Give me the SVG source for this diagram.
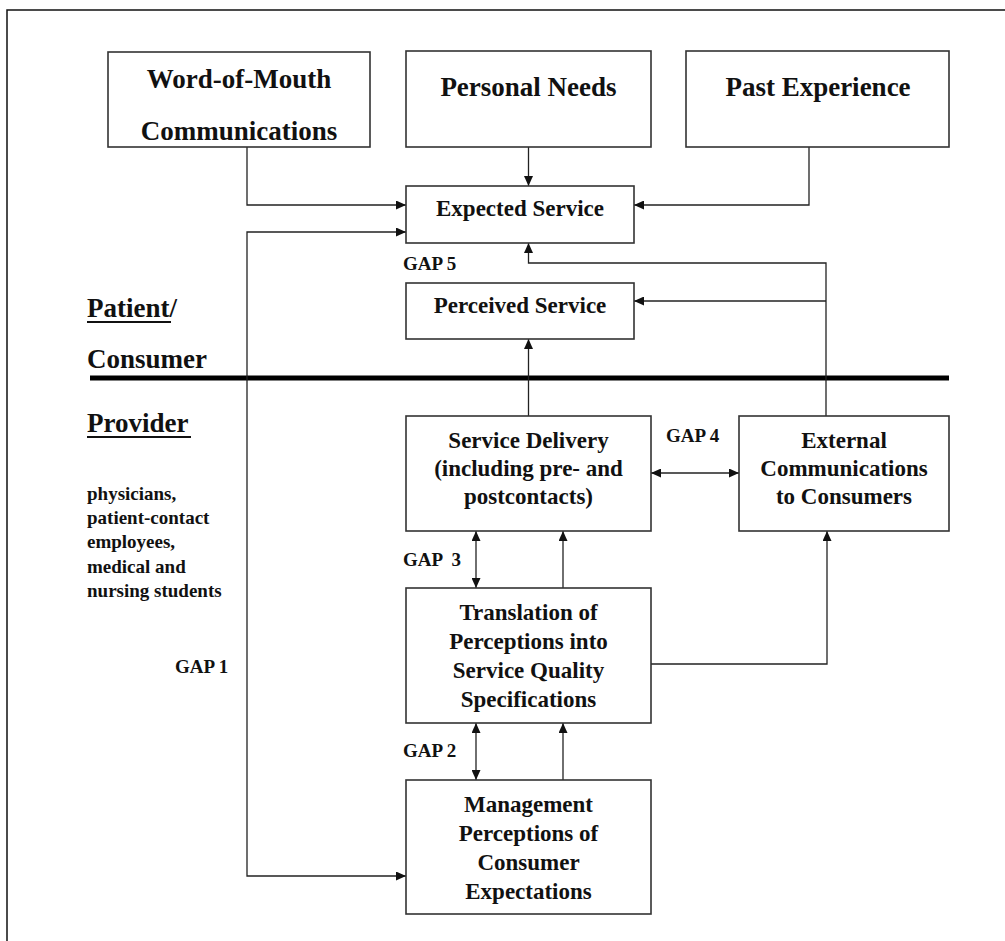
<svg xmlns="http://www.w3.org/2000/svg" width="1005" height="941" viewBox="0 0 1005 941">
<style>
  text { font-family: "Liberation Serif", "Times New Roman", serif; font-weight: bold; fill: #111; }
  .big { font-size: 27px; }
  .box { font-size: 23px; text-anchor: middle; }
  .gap { font-size: 19px; }
  .side { font-size: 19px; }
  rect.node { fill: #fff; stroke: #333; stroke-width: 1.6; }
  .conn path { fill: none; stroke: #222; stroke-width: 1.3; }
  .frame { stroke: #111; stroke-width: 1.5; fill: none; }
</style>
<defs>
  <marker id="ah" markerUnits="userSpaceOnUse" markerWidth="11" markerHeight="9" refX="10" refY="4.5" orient="auto-start-reverse">
    <path d="M0,0 L10,4.5 L0,9 z" fill="#111"/>
  </marker>
</defs>
<rect x="0" y="0" width="1005" height="941" fill="#fff"/>
<path class="frame" d="M7,941 V10 H1005"/>

<g id="side-labels">
  <text class="big" x="87" y="317">Patient/</text>
  <line x1="87" y1="322" x2="171" y2="322" stroke="#111" stroke-width="2"/>
  <text class="big" x="87" y="368">Consumer</text>
  <line x1="90" y1="378" x2="949" y2="378" stroke="#000" stroke-width="5"/>
  <text class="big" x="87" y="432">Provider</text>
  <line x1="87" y1="437" x2="191" y2="437" stroke="#111" stroke-width="2"/>
  <text class="side" x="87" y="500">physicians,</text>
  <text class="side" x="87" y="524">patient-contact</text>
  <text class="side" x="87" y="548">employees,</text>
  <text class="side" x="87" y="573">medical and</text>
  <text class="side" x="87" y="597">nursing students</text>
</g>

<g class="conn" id="connectors">
  <path d="M247,147 V205 H406" marker-end="url(#ah)"/>
  <path d="M528.5,147 V186" marker-end="url(#ah)"/>
  <path d="M809,147 V205 H634" marker-end="url(#ah)"/>
  <path d="M406,232 H247 V876 H406" marker-start="url(#ah)" marker-end="url(#ah)"/>
  <path d="M826,416 V263 H528.5 V243" marker-end="url(#ah)"/>
  <path d="M826,301 H634" marker-end="url(#ah)"/>
  <path d="M528.5,416 V339" marker-end="url(#ah)"/>
  <path d="M651,473 H739" marker-start="url(#ah)" marker-end="url(#ah)"/>
  <path d="M476,531 V588" marker-start="url(#ah)" marker-end="url(#ah)"/>
  <path d="M563,588 V531" marker-end="url(#ah)"/>
  <path d="M651,664 H827 V531" marker-end="url(#ah)"/>
  <path d="M476,723 V780" marker-start="url(#ah)" marker-end="url(#ah)"/>
  <path d="M563,780 V723" marker-end="url(#ah)"/>
</g>

<g id="gap-labels">
  <text class="gap" x="403" y="270">GAP 5</text>
  <text class="gap" x="666" y="442">GAP 4</text>
  <text class="gap" x="403" y="566" xml:space="preserve">GAP  3</text>
  <text class="gap" x="403" y="757">GAP 2</text>
  <text class="gap" x="175" y="673">GAP 1</text>
</g>

<g id="word-of-mouth">
  <rect class="node" x="108" y="52" width="262" height="95"/>
  <text class="big" x="239" y="88" text-anchor="middle">Word-of-Mouth</text>
  <text class="big" x="239" y="140" text-anchor="middle">Communications</text>
</g>
<g id="personal-needs">
  <rect class="node" x="406" y="51" width="245" height="96"/>
  <text class="big" x="528.5" y="96" text-anchor="middle">Personal Needs</text>
</g>
<g id="past-experience">
  <rect class="node" x="686" y="51" width="263" height="96"/>
  <text class="big" x="818" y="96" text-anchor="middle">Past Experience</text>
</g>
<g id="expected-service">
  <rect class="node" x="406" y="186" width="228" height="57"/>
  <text class="box" x="520" y="216">Expected Service</text>
</g>
<g id="perceived-service">
  <rect class="node" x="406" y="283" width="228" height="56"/>
  <text class="box" x="520" y="313">Perceived Service</text>
</g>
<g id="service-delivery">
  <rect class="node" x="406" y="416" width="245" height="115"/>
  <text class="box" x="528.5" y="448">Service Delivery</text>
  <text class="box" x="528.5" y="476">(including pre- and</text>
  <text class="box" x="528.5" y="504">postcontacts)</text>
</g>
<g id="external-communications">
  <rect class="node" x="739" y="416" width="210" height="115"/>
  <text class="box" x="844" y="448">External</text>
  <text class="box" x="844" y="476">Communications</text>
  <text class="box" x="844" y="504">to Consumers</text>
</g>
<g id="translation">
  <rect class="node" x="406" y="588" width="245" height="135"/>
  <text class="box" x="528.5" y="620">Translation of</text>
  <text class="box" x="528.5" y="649">Perceptions into</text>
  <text class="box" x="528.5" y="678">Service Quality</text>
  <text class="box" x="528.5" y="707">Specifications</text>
</g>
<g id="management">
  <rect class="node" x="406" y="780" width="245" height="134"/>
  <text class="box" x="528.5" y="812">Management</text>
  <text class="box" x="528.5" y="841">Perceptions of</text>
  <text class="box" x="528.5" y="870">Consumer</text>
  <text class="box" x="528.5" y="899">Expectations</text>
</g>
</svg>
